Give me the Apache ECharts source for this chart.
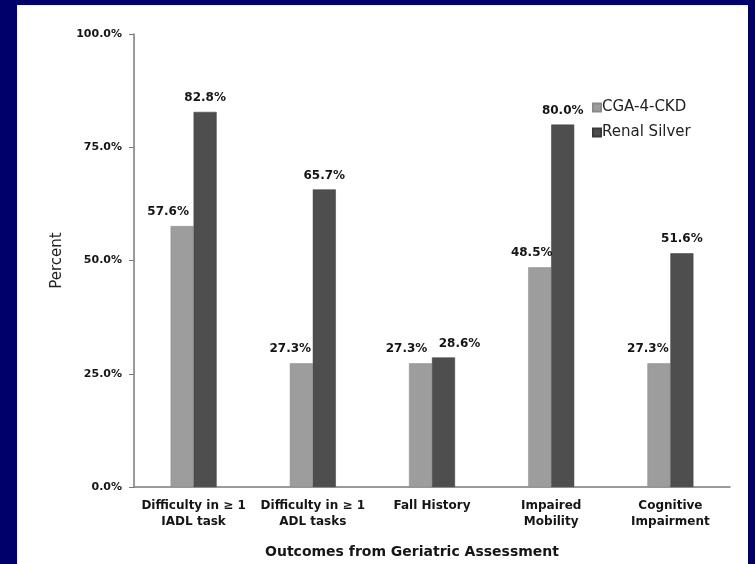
<!DOCTYPE html>
<html>
<head>
<meta charset="utf-8">
<script src="https://cdn.jsdelivr.net/npm/echarts@6/dist/echarts.min.js"></script>
<style>
  html, body { margin: 0; padding: 0; background: #00006a; }
  #panel { position: absolute; left: 17px; top: 5px; width: 731px; height: 559px; background: #ffffff; }
  #chart { position: absolute; left: 0; top: 0; width: 755px; height: 564px; }
</style>
</head>
<body>
<div id="panel"></div>
<div id="chart"></div>
<script>
// Outcomes from geriatric assessment, percent of patients in each group
const categories = [
  'Difficulty in \u2265 1\nIADL task',
  'Difficulty in \u2265 1\nADL tasks',
  'Fall History',
  'Impaired\nMobility',
  'Cognitive\nImpairment'
];
const seriesNames = ['CGA-4-CKD', 'Renal Silver'];
const cgaValues = [57.6, 27.3, 27.3, 48.5, 27.3];
const renalValues = [82.8, 65.7, 28.6, 80.0, 51.6];
const yTicks = [0, 25, 50, 75, 100];

// horizontal nudges for value labels so neighbouring labels don't collide
const cgaLabelShift = [-14, -11, -14, -8, -11];
const renalLabelShift = [0, 0, 16, 0, 0];

const FONT = 'DejaVu Sans, Verdana, sans-serif';
const labelFont = { fontFamily: FONT, fontWeight: 'bold', fontSize: 12, color: '#151515' };

function makeData(values, shifts) {
  return values.map((v, i) => ({
    value: v,
    label: { offset: [shifts[i], 0] }
  }));
}

const chart = echarts.init(document.getElementById('chart'), null, { renderer: 'canvas' });
chart.setOption({
  backgroundColor: 'transparent',
  animation: false,
  grid: { left: 134, right: 25, top: 34, bottom: 73, containLabel: false },
  legend: {
    orient: 'vertical',
    left: 592,
    top: 100,
    padding: 0,
    itemWidth: 8,
    itemHeight: 8,
    itemGap: 10,
    icon: 'rect',
    data: seriesNames,
    textStyle: { fontFamily: FONT, fontSize: 15, color: '#222', padding: [0, 0, 0, -4] }
  },
  xAxis: {
    type: 'category',
    data: categories,
    name: 'Outcomes from Geriatric Assessment',
    nameLocation: 'middle',
    nameGap: 58,
    nameTextStyle: { fontFamily: FONT, fontWeight: 'bold', fontSize: 14, color: '#151515', padding: [0, 40, 0, 0] },
    axisLine: { lineStyle: { color: '#7a7a7a', width: 1.5 } },
    axisTick: { show: false },
    axisLabel: { ...labelFont, margin: 11, lineHeight: 16, interval: 0 }
  },
  yAxis: {
    type: 'value',
    min: yTicks[0],
    max: yTicks[yTicks.length - 1],
    interval: yTicks[1] - yTicks[0],
    name: 'Percent',
    nameLocation: 'middle',
    nameGap: 69,
    nameTextStyle: { fontFamily: FONT, fontSize: 15, color: '#222' },
    axisLine: { show: true, lineStyle: { color: '#7a7a7a', width: 1.5 } },
    axisTick: { show: true, length: 5, lineStyle: { color: '#7a7a7a' } },
    splitLine: { show: false },
    axisLabel: { ...labelFont, fontSize: 11, margin: 12, formatter: v => v.toFixed(1) + '%' }
  },
  series: [
    {
      name: seriesNames[0],
      type: 'bar',
      barWidth: 23,
      barGap: '0%',
      itemStyle: { color: '#9d9d9d', borderColor: '#8a8a8a', borderWidth: 0.5 },
      label: { show: true, position: 'top', distance: 8, ...labelFont, formatter: p => p.value.toFixed(1) + '%' },
      data: makeData(cgaValues, cgaLabelShift)
    },
    {
      name: seriesNames[1],
      type: 'bar',
      barWidth: 23,
      barGap: '0%',
      itemStyle: { color: '#4e4e4e', borderColor: '#3a3a3a', borderWidth: 0.5 },
      label: { show: true, position: 'top', distance: 8, ...labelFont, formatter: p => p.value.toFixed(1) + '%' },
      data: makeData(renalValues, renalLabelShift)
    }
  ]
});
</script>
</body>
</html>
